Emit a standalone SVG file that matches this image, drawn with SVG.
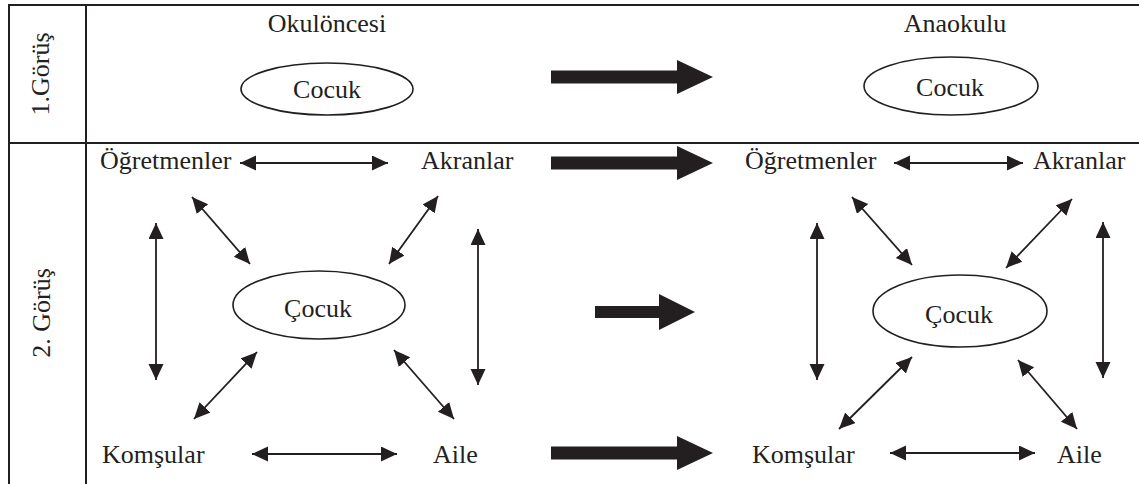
<svg xmlns="http://www.w3.org/2000/svg" xmlns:xlink="http://www.w3.org/1999/xlink" width="1139" height="484" viewBox="0 0 1139 484">
  <style>
    .grid { stroke: #231f20; stroke-width: 2; fill: none; }
    .lbl { font-size: 26px; fill: #231f20; }
    .mid { text-anchor: middle; }
    .node { fill: #ffffff; stroke: #231f20; stroke-width: 1.6; }
    .link { stroke: #231f20; stroke-width: 1.8; fill: none; marker-start: url(#head); marker-end: url(#head); }
    .big { fill: #231f20; }
  </style>
  <defs>
    <marker id="head" markerUnits="userSpaceOnUse" markerWidth="17" markerHeight="16" refX="16" refY="7.5" orient="auto-start-reverse">
      <path d="M0,0 L16,7.5 L0,15 Z" fill="#231f20"/>
    </marker>
    <!-- long block arrow, tail at origin, pointing right -->
    <path id="blockLong" d="M0,-6.5 H126 V-17 L162,0 L126,17 V6.5 H0 Z"/>
  </defs>

  <rect width="1139" height="484" fill="#ffffff"/>

  <!-- table frame -->
  <g id="frame" class="grid">
    <line x1="8" y1="5" x2="1139" y2="5"/>
    <line x1="9" y1="4" x2="9" y2="484"/>
    <line x1="86" y1="4" x2="86" y2="484"/>
    <line x1="8" y1="143" x2="1139" y2="143"/>
  </g>

  <g font-family="Liberation Serif, Times New Roman, DejaVu Serif, serif">
    <!-- row headings -->
    <g id="row1-title">
      <text class="lbl mid" transform="translate(49,74) rotate(-90)">1.Görüş</text>
    </g>
    <g id="row2-title">
      <text class="lbl mid" transform="translate(50,313) rotate(-90)">2. Görüş</text>
    </g>

    <!-- row 1 -->
    <g id="okuloncesi">
      <text class="lbl mid" x="327" y="32">Okulöncesi</text>
    </g>
    <g id="anaokulu">
      <text class="lbl mid" x="955" y="32">Anaokulu</text>
    </g>
    <g id="cocuk-1a">
      <ellipse class="node" cx="327" cy="89" rx="86" ry="26"/>
      <text class="lbl mid" x="327" y="98">Cocuk</text>
    </g>
    <g id="cocuk-1b">
      <ellipse class="node" cx="951" cy="86" rx="87" ry="29"/>
      <text class="lbl mid" x="950" y="96">Cocuk</text>
    </g>

    <!-- row 2, left network -->
    <g id="ogretmenler-a"><text class="lbl" x="100" y="169">Öğretmenler</text></g>
    <g id="akranlar-a"><text class="lbl" x="421" y="169">Akranlar</text></g>
    <g id="komsular-a"><text class="lbl" x="102" y="463">Komşular</text></g>
    <g id="aile-a"><text class="lbl" x="433" y="463">Aile</text></g>
    <g id="cocuk-2a">
      <ellipse class="node" cx="319" cy="305" rx="86" ry="34"/>
      <text class="lbl mid" x="318" y="317">Çocuk</text>
    </g>

    <!-- row 2, right network -->
    <g id="ogretmenler-b"><text class="lbl" x="745" y="169">Öğretmenler</text></g>
    <g id="akranlar-b"><text class="lbl" x="1033" y="169">Akranlar</text></g>
    <g id="komsular-b"><text class="lbl" x="752" y="463">Komşular</text></g>
    <g id="aile-b"><text class="lbl" x="1057" y="463">Aile</text></g>
    <g id="cocuk-2b">
      <ellipse class="node" cx="960" cy="311" rx="87" ry="36"/>
      <text class="lbl mid" x="959" y="323">Çocuk</text>
    </g>
  </g>

  <!-- connectors -->
  <g id="connectors">
    <!-- transition arrows -->
    <use class="big" xlink:href="#blockLong" transform="translate(551,77)"/>
    <use class="big" xlink:href="#blockLong" transform="translate(551,163)"/>
    <path class="big" d="M595,306 H659 V294 L695,312 L659,330 V318 H595 Z"/>
    <use class="big" xlink:href="#blockLong" transform="translate(551,453)"/>

    <!-- left network links -->
    <line class="link" x1="240" y1="163" x2="388" y2="163"/>
    <line class="link" x1="252" y1="454" x2="397" y2="454"/>
    <line class="link" x1="156" y1="223" x2="156" y2="380"/>
    <line class="link" x1="478" y1="229" x2="478" y2="385"/>
    <line class="link" x1="192" y1="197" x2="250" y2="264"/>
    <line class="link" x1="438" y1="196" x2="389" y2="264"/>
    <line class="link" x1="257" y1="352" x2="194" y2="419"/>
    <line class="link" x1="394" y1="350" x2="454" y2="419"/>

    <!-- right network links -->
    <line class="link" x1="894" y1="163" x2="1023" y2="163"/>
    <line class="link" x1="890" y1="453" x2="1035" y2="453"/>
    <line class="link" x1="817" y1="223" x2="817" y2="380"/>
    <line class="link" x1="1103" y1="222" x2="1103" y2="378"/>
    <line class="link" x1="852" y1="197" x2="912" y2="265"/>
    <line class="link" x1="1072" y1="199" x2="1006" y2="268"/>
    <line class="link" x1="912" y1="357" x2="839" y2="429"/>
    <line class="link" x1="1018" y1="360" x2="1077" y2="429"/>
  </g>
</svg>
